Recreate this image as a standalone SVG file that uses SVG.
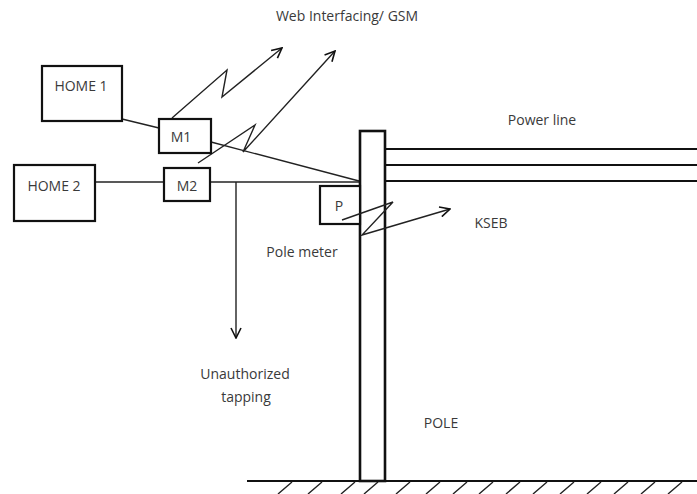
<svg xmlns="http://www.w3.org/2000/svg" width="697" height="494" viewBox="0 0 697 494">
<defs>
<marker id="arr" viewBox="0 0 12 12" refX="11" refY="6" markerWidth="12" markerHeight="12" markerUnits="userSpaceOnUse" orient="auto">
<path d="M1,1 L11,6 L1,11" fill="none" stroke="#111" stroke-width="1.6"/>
</marker>
<style>
.box{fill:#fff;stroke:#111;stroke-width:2.2}
.ln{fill:none;stroke:#222;stroke-width:1.4}
.thk{fill:none;stroke:#111;stroke-width:2}
.t{font-family:"Open Sans","Liberation Sans",sans-serif;font-size:14px;fill:#3a3a3a;text-anchor:middle}
</style>
</defs>
<rect width="697" height="494" fill="#fff"/>
<g id="labels">
<text class="t" x="347" y="21">Web Interfacing/ GSM</text>
<text class="t" x="542" y="125">Power line</text>
<text class="t" x="491" y="228">KSEB</text>
<text class="t" x="302" y="257">Pole meter</text>
<text class="t" x="245" y="379">Unauthorized</text>
<text class="t" x="246" y="402">tapping</text>
<text class="t" x="441" y="428">POLE</text>
</g>
<g id="ground">
<line class="thk" x1="247" y1="481" x2="697" y2="481"/>
<path class="ln" stroke-width="1.6" d="M292,482 L278,494 M322,482 L308,494 M355,482 L341,494 M378,482 L364,494 M410,482 L396,494 M440,482 L426,494 M467,482 L453,494 M493,482 L479,494 M520,482 L506,494 M547,482 L533,494 M574,482 L560,494 M601,482 L587,494 M628,482 L614,494 M655,482 L641,494 M682,482 L668,494"/>
</g>
<g id="connectors">
<line class="ln" x1="122" y1="119" x2="159" y2="128"/>
<line class="ln" x1="211" y1="142" x2="359" y2="181"/>
<line class="ln" x1="95" y1="182" x2="164" y2="182"/>
<line class="ln" x1="210" y1="182" x2="360" y2="182"/>
<line x1="385" y1="149" x2="697" y2="149" stroke="#111" stroke-width="2"/>
<line x1="385" y1="165" x2="697" y2="165" stroke="#111" stroke-width="2"/>
<line x1="385" y1="181" x2="697" y2="181" stroke="#111" stroke-width="2"/>
<line class="ln" x1="236" y1="182" x2="236" y2="338" marker-end="url(#arr)"/>
<polyline class="ln" points="172,118 227,70 222,97 282,48" marker-end="url(#arr)"/>
<polyline class="ln" points="198,163 255,125 243,152 335,51" marker-end="url(#arr)"/>
</g>
<g id="pole">
<rect x="360" y="131" width="25" height="350" fill="#fff" stroke="#111" stroke-width="2.6"/>
</g>
<g id="home1">
<rect class="box" x="42" y="66" width="80" height="55"/>
<text class="t" x="81" y="91">HOME 1</text>
</g>
<g id="home2">
<rect class="box" x="14" y="165" width="81" height="56"/>
<text class="t" x="54" y="191">HOME 2</text>
</g>
<g id="m1">
<rect class="box" x="159" y="119" width="52" height="34"/>
<text class="t" x="181" y="142">M1</text>
</g>
<g id="m2">
<rect class="box" x="164" y="168" width="46" height="33"/>
<text class="t" x="187" y="191">M2</text>
</g>
<g id="p">
<rect class="box" x="320" y="186" width="40" height="38"/>
<text class="t" x="339" y="211">P</text>
</g>
<g id="kseb-link">
<polyline class="ln" points="342,220 393,202 362,235 450,209" marker-end="url(#arr)"/>
</g>
</svg>
